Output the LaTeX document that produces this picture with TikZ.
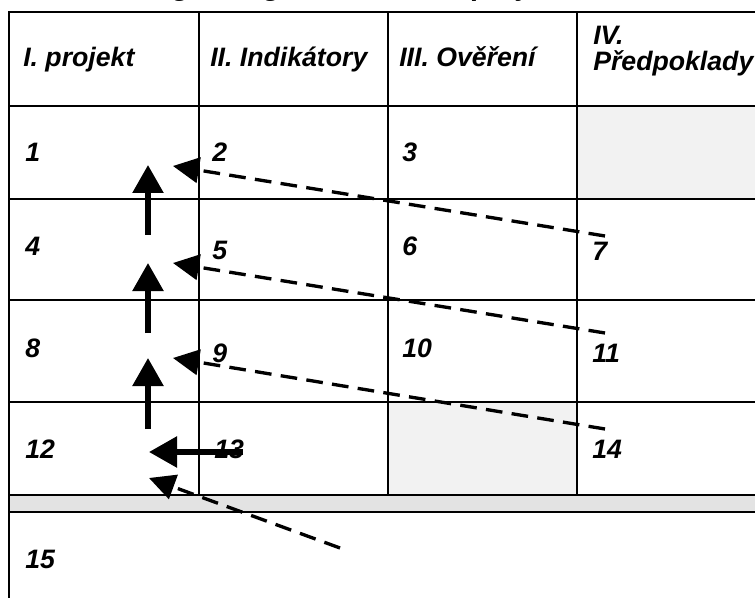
\documentclass[tikz,border=0pt]{standalone}
\usepackage{fontspec}
\setmainfont{Liberation Sans}
\usetikzlibrary{arrows.meta}

\begin{document}
\begin{tikzpicture}[x=0.75pt, y=-0.75pt,
        grid/.style={line width=1.5pt},
        num/.style={anchor=base west, inner sep=0pt, font=\fontsize{20}{16}\selectfont\bfseries\itshape},
        flow/.style={line width=4.2pt, -{Triangle[length=21pt, width=22.5pt]}},
        link/.style={line width=2.5pt, dash pattern=on 12.5pt off 7pt, -{Triangle[length=19.5pt, width=19pt]}}]

        \useasboundingbox (0,0) rectangle (755,598);
        \node[anchor=base, font=\fontsize{21.5}{24}\selectfont\bfseries\itshape] (title) at (362,-4.5) {Logika logického rámce projektu};

        \fill[black!5] (577,106) rectangle (755,199);
        \fill[black!5] (388,402) rectangle (577,495);
        \fill[black!11] (9,495) rectangle (755,512);
        \draw[grid] (9,598) -- (9,12) -- (755,12);
        \foreach \y in {106,199,300,402,495,512}
            \draw[grid] (9,\y) -- (755,\y);
        \foreach \x in {199,388,577}
            \draw[grid] (\x,12) -- (\x,495);

        \node[num] (h1) at (23,67) {I. projekt};
        \node[num] (h2) at (210,67) {II. Indikátory};
        \node[num] (h3) at (399,67) {III. Ověření};
        \node[num] (h4) at (593,45) {IV.};
        \node[num] (h4b) at (593,71) {Předpoklady};

        \node[num] (n1) at (25,162) {1};
        \node[num] (n2) at (212,162) {2};
        \node[num] (n3) at (402,162) {3};
        \node[num] (n4) at (25,255) {4};
        \node[num] (n5) at (212,259) {5};
        \node[num] (n6) at (402,255) {6};
        \node[num] (n7) at (592,260) {7};
        \node[num] (n8) at (25,357) {8};
        \node[num] (n9) at (212,362) {9};
        \node[num] (n10) at (402,357) {10};
        \node[num] (n11) at (592,362) {11};
        \node[num] (n12) at (25,458) {12};
        \node[num] (n13) at (214,458) {13};
        \node[num] (n14) at (592,458) {14};
        \node[num] (n15) at (25,568) {15};

        \coordinate (p4) at (148,235);
        \coordinate (q1) at (148,165);
        \coordinate (p8) at (148,333);
        \coordinate (q4) at (148,263);
        \coordinate (p12) at (148,429);
        \coordinate (q8) at (148,358);
        \coordinate (p13) at (243,452);
        \coordinate (q12) at (149,452);
        \draw[flow] (p4) -- (q1);
        \draw[flow] (p8) -- (q4);
        \draw[flow] (p12) -- (q8);
        \draw[flow] (p13) -- (q12);

        \coordinate (d7) at (605,236);
        \coordinate (e2) at (173,166);
        \coordinate (d11) at (605,333);
        \coordinate (e5) at (173,263);
        \coordinate (d14) at (605,429);
        \coordinate (e9) at (173,358);
        \coordinate (d15) at (340,548);
        \coordinate (e12) at (149,478);
        \draw[link] (d7) -- (e2);
        \draw[link] (d11) -- (e5);
        \draw[link] (d14) -- (e9);
        \draw[link] (d15) -- (e12);
    \end{tikzpicture}
\end{document}
